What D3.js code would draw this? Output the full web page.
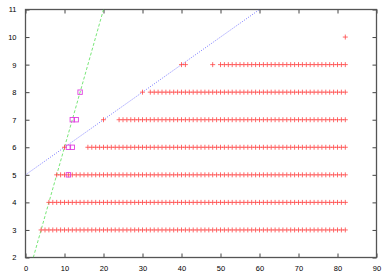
<!DOCTYPE html>
<html>
<head>
<meta charset="utf-8">
<script src="https://cdn.jsdelivr.net/npm/d3@7"></script>
<style>
body { margin:0; background:#fff; }
text { font-family:"Liberation Sans", Arial, sans-serif; font-size:7.5px; fill:#000; }
</style>
</head>
<body>
<svg width="390" height="273"></svg>
<script>
// rows of "+" points, one point at each integer x from runStart to runEnd
var runY     = [3, 4, 5, 6, 7, 8, 9]
var runStart = [4, 6, 8, 16, 24, 32, 50]
var runEnd   = [82, 82, 82, 82, 82, 82, 82]

// single "+" points
var singleX = [10, 20, 30, 40, 41, 48, 82]
var singleY = [6, 7, 8, 9, 9, 9, 10]

// square points
var squareX = [11, 11, 12, 12, 13, 14]
var squareY = [5, 6, 6, 7, 7, 8]

// the two lines (end points)
var greenLineX = [2, 20]
var greenLineY = [2, 11]
var blueLineX = [0, 60]
var blueLineY = [5, 11]

var xTicks = [0, 10, 20, 30, 40, 50, 60, 70, 80, 90]
var yTicks = [2, 3, 4, 5, 6, 7, 8, 9, 10, 11]

var svg = d3.select("svg")

var x = d3.scaleLinear().domain([0, 90]).range([25.5, 376.5])
var y = d3.scaleLinear().domain([2, 11]).range([257.5, 9.5])

// build point list from the rows
var plusPoints = []
runY.forEach(function(ry, i)
{
    d3.range(runStart[i], runEnd[i] + 1).forEach(function(px)
    {
        plusPoints.push({x:px, y:ry})
    })
})
singleX.forEach(function(px, i) { plusPoints.push({x:px, y:singleY[i]}) })

var squares = squareX.map(function(px, i) { return {x:px, y:squareY[i]} })

// axes, ticks point inward
var axisStyle = function(g)
{
    g.select(".domain").remove()
    g.selectAll(".tick line").attr("stroke", "#444")
}

svg.append("g")
    .attr("transform", "translate(0," + y(2) + ")")
    .call(d3.axisBottom(x).tickValues(xTicks).tickSize(-4).tickPadding(8).tickFormat(d3.format("d")))
    .call(axisStyle)
    .selectAll("text").attr("font-size", "7.5px").attr("font-family", "Liberation Sans, Arial, sans-serif")

svg.append("g")
    .attr("transform", "translate(0," + y(11) + ")")
    .call(d3.axisTop(x).tickValues(xTicks).tickSize(-4).tickFormat(""))
    .call(axisStyle)

svg.append("g")
    .attr("transform", "translate(" + x(0) + ",0)")
    .call(d3.axisLeft(y).tickValues(yTicks).tickSize(-4).tickPadding(9).tickFormat(d3.format("d")))
    .call(axisStyle)
    .selectAll("text").attr("font-size", "7.5px").attr("font-family", "Liberation Sans, Arial, sans-serif")

svg.append("g")
    .attr("transform", "translate(" + x(90) + ",0)")
    .call(d3.axisRight(y).tickValues(yTicks).tickSize(-4).tickFormat(""))
    .call(axisStyle)

// border
svg.append("rect")
    .attr("x", x(0))
    .attr("y", y(11))
    .attr("width", x(90) - x(0))
    .attr("height", y(2) - y(11))
    .attr("fill", "none")
    .attr("stroke", "#555")
    .attr("stroke-width", 1.3)

var plot = svg.append("g")

// clip lines to plot area
svg.append("clipPath").attr("id", "clip")
    .append("rect")
    .attr("x", x(0)).attr("y", y(11))
    .attr("width", x(90) - x(0)).attr("height", y(2) - y(11))

var line = d3.line().x(function(d) { return x(d[0]) }).y(function(d) { return y(d[1]) })

plot.append("path")
    .datum(greenLineX.map(function(v, i) { return [v, greenLineY[i]] }))
    .attr("d", line)
    .attr("clip-path", "url(#clip)")
    .attr("fill", "none")
    .attr("stroke", "#55e055")
    .attr("stroke-width", 0.8)
    .attr("stroke-dasharray", "3,2")

plot.append("path")
    .datum(blueLineX.map(function(v, i) { return [v, blueLineY[i]] }))
    .attr("d", line)
    .attr("clip-path", "url(#clip)")
    .attr("fill", "none")
    .attr("stroke", "#5555ff")
    .attr("stroke-width", 0.8)
    .attr("stroke-dasharray", "1,1.5")

// "+" marks
var plusSize = 2.5
plot.selectAll(".plus")
    .data(plusPoints)
    .enter()
    .append("path")
    .attr("class", "plus")
    .attr("d", function(d)
    {
        var cx = x(d.x), cy = y(d.y)
        return "M" + (cx - plusSize) + "," + cy + "H" + (cx + plusSize) +
               "M" + cx + "," + (cy - plusSize) + "V" + (cy + plusSize)
    })
    .attr("stroke", "#ff4444")
    .attr("stroke-width", 0.8)
    .attr("fill", "none")

// squares
plot.selectAll(".sq")
    .data(squares)
    .enter()
    .append("rect")
    .attr("class", "sq")
    .attr("x", function(d) { return x(d.x) - 2.2 })
    .attr("y", function(d) { return y(d.y) - 2.2 })
    .attr("width", 4.4)
    .attr("height", 4.4)
    .attr("fill", "none")
    .attr("stroke", "#e040e0")
    .attr("stroke-width", 0.9)
</script>
</body>
</html>
